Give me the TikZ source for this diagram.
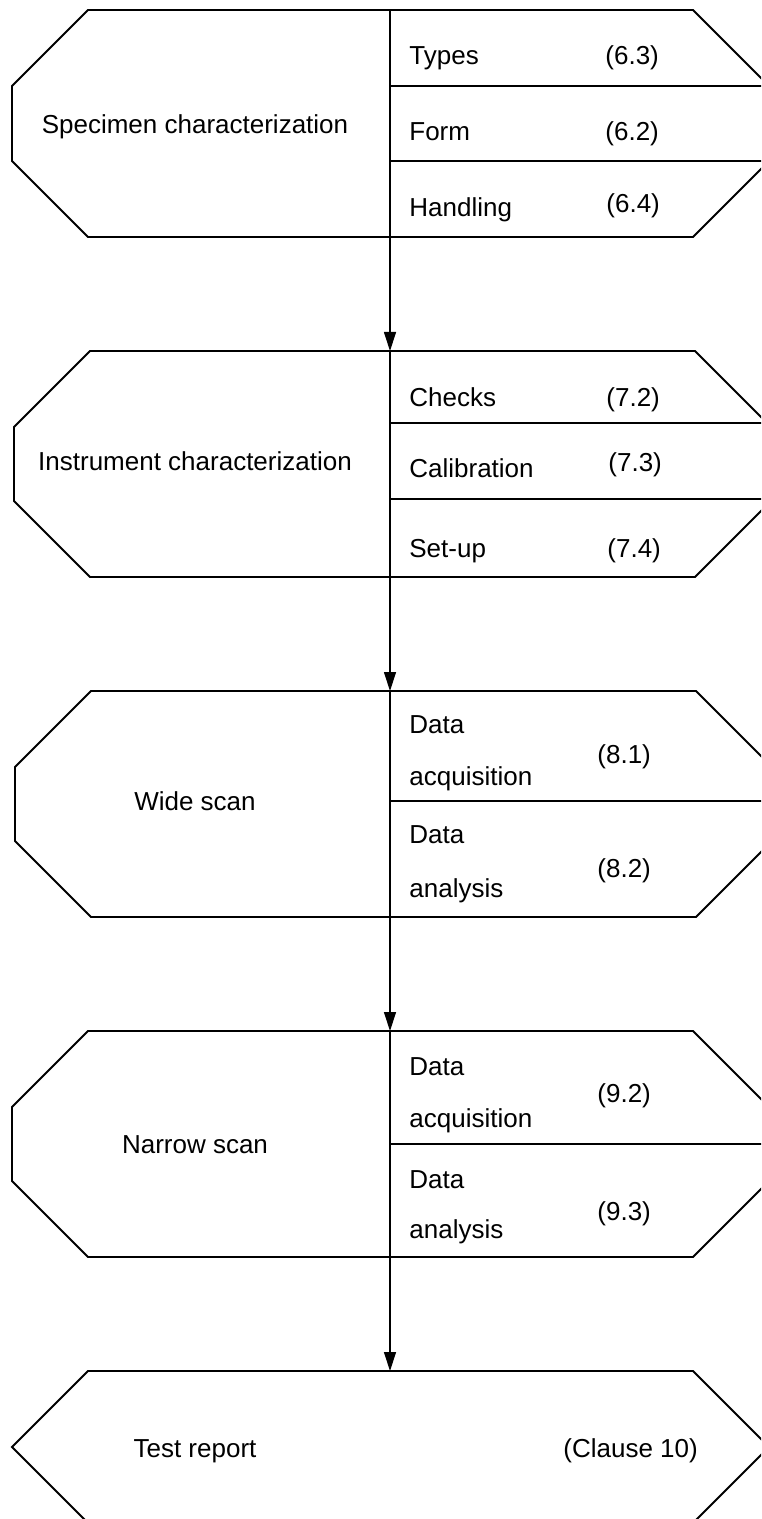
\documentclass[tikz,border=0pt]{standalone}
\usepackage{fontspec}
\setmainfont{Liberation Sans}
\usetikzlibrary{arrows.meta}
\begin{document}
\begin{tikzpicture}[x=0.5pt,y=-0.5pt,
  box/.style={line width=0.95pt, line join=miter},
  flow/.style={line width=0.6pt, -{Triangle[length=9.5pt,width=6pt]}},
  lbl/.style={inner sep=0pt, anchor=base west, font=\fontsize{13}{15}\selectfont},
  ctr/.style={inner sep=0pt, anchor=base, font=\fontsize{13}{15}\selectfont}]
\useasboundingbox (0,0) rectangle (761,1519);
\clip (0,0) rectangle (761,1519);
\fill[white] (0,0) rectangle (761,1519);

% Box 1
\draw[box] (88,10) -- (693,10) -- (769,86) -- (769,161) -- (693,237) -- (88,237) -- (12,161) -- (12,86) -- cycle;
\draw[box] (390,10) -- (390,237);
\draw[box] (390,86) -- (769,86);
\draw[box] (390,161) -- (769,161);
\coordinate (b1top) at (390,10);
\coordinate (b1bot) at (390,237);
\node[ctr] (spec) at (195,134) {Specimen characterization};
\node[lbl] (types) at (409,65) {Types};
\node[lbl] (types n) at (605,65) {(6.3)};
\node[lbl] (form) at (409,141) {Form};
\node[lbl] (form n) at (605,141) {(6.2)};
\node[lbl] (hand) at (409,217) {Handling};
\node[lbl] (hand n) at (606,213) {(6.4)};

% Box 2
\draw[box] (90,351) -- (695,351) -- (771,427) -- (771,501) -- (695,577) -- (90,577) -- (14,501) -- (14,427) -- cycle;
\draw[box] (390,351) -- (390,577);
\draw[box] (390,423) -- (771,423);
\draw[box] (390,499) -- (771,499);
\coordinate (b2top) at (390,351);
\coordinate (b2bot) at (390,577);
\node[ctr] (instr) at (195,470) {Instrument characterization};
\node[lbl] (checks) at (409,407) {Checks};
\node[lbl] (checks n) at (606,406) {(7.2)};
\node[lbl] (calib) at (409,477) {Calibration};
\node[lbl] (calib n) at (608,471) {(7.3)};
\node[lbl] (setup) at (409,557) {Set-up};
\node[lbl] (setup n) at (607,557) {(7.4)};

% Box 3
\draw[box] (91,691) -- (696,691) -- (772,767) -- (772,841) -- (696,917) -- (91,917) -- (15,841) -- (15,767) -- cycle;
\draw[box] (390,691) -- (390,917);
\draw[box] (390,801) -- (772,801);
\coordinate (b3top) at (390,691);
\coordinate (b3bot) at (390,917);
\node[ctr] (wide) at (195,810) {Wide scan};
\node[lbl] (wa1) at (409,733) {Data};
\node[lbl] (wa2) at (409,785) {acquisition};
\node[lbl] (wa n) at (597,763) {(8.1)};
\node[lbl] (wb1) at (409,843) {Data};
\node[lbl] (wb2) at (409,897) {analysis};
\node[lbl] (wb n) at (597,877) {(8.2)};

% Box 4
\draw[box] (88,1031) -- (693,1031) -- (769,1107) -- (769,1181) -- (693,1257) -- (88,1257) -- (12,1181) -- (12,1107) -- cycle;
\draw[box] (390,1031) -- (390,1257);
\draw[box] (390,1144) -- (769,1144);
\coordinate (b4top) at (390,1031);
\coordinate (b4bot) at (390,1257);
\node[ctr] (narrow) at (195,1153) {Narrow scan};
\node[lbl] (na1) at (409,1075) {Data};
\node[lbl] (na2) at (409,1127) {acquisition};
\node[lbl] (na n) at (597,1102) {(9.2)};
\node[lbl] (nb1) at (409,1188) {Data};
\node[lbl] (nb2) at (409,1238) {analysis};
\node[lbl] (nb n) at (597,1220) {(9.3)};

% Box 5
\draw[box] (88,1371) -- (693,1371) -- (769,1447) -- (693,1523) -- (88,1523) -- (12,1447) -- cycle;
\coordinate (b5top) at (390,1371);
\node[ctr] (report) at (195,1457) {Test report};
\node[lbl] (clause) at (563,1457) {(Clause 10)};

% Connectors
\draw[flow] (b1bot) -- (b2top);
\draw[flow] (b2bot) -- (b3top);
\draw[flow] (b3bot) -- (b4top);
\draw[flow] (b4bot) -- (b5top);
\end{tikzpicture}
\end{document}
